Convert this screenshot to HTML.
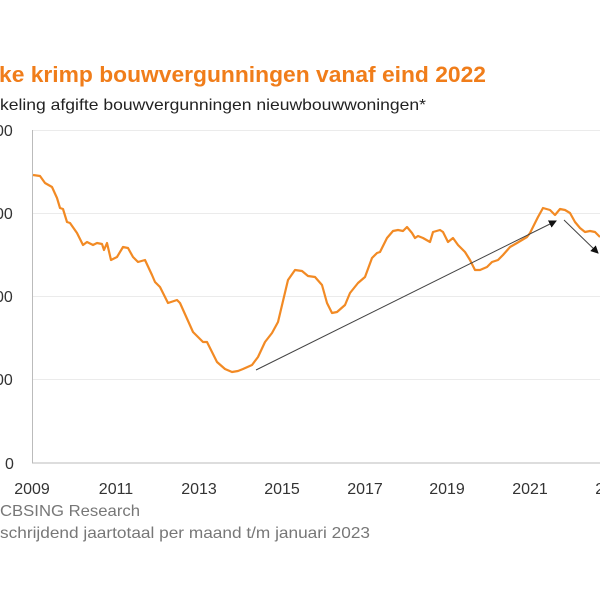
<!DOCTYPE html>
<html><head><style>
body{margin:0;background:#fff;width:600px;height:600px;overflow:hidden;font-family:"Liberation Sans",Arial,sans-serif}
</style></head><body>
<svg width="600" height="600" xmlns="http://www.w3.org/2000/svg" font-family="Liberation Sans, Arial, sans-serif">
<text x="-1" y="82" font-size="22" font-weight="bold" fill="#f07d1a" textLength="487" lengthAdjust="spacingAndGlyphs">ke krimp bouwvergunningen vanaf eind 2022</text>
<text x="0" y="110" font-size="16" fill="#222" textLength="426" lengthAdjust="spacingAndGlyphs">keling afgifte bouwvergunningen nieuwbouwwoningen*</text>
<g stroke="#ebebeb" stroke-width="1">
<line x1="33" y1="130.5" x2="600" y2="130.5"/>
<line x1="33" y1="213.5" x2="600" y2="213.5"/>
<line x1="33" y1="296.5" x2="600" y2="296.5"/>
<line x1="33" y1="379.5" x2="600" y2="379.5"/>
</g>
<line x1="32.5" y1="130" x2="32.5" y2="463" stroke="#bbb"/>
<line x1="32" y1="463" x2="600" y2="463" stroke="#bbb"/>
<g font-size="16" fill="#333">
<text x="-5" y="136">00</text><text x="-5" y="219">00</text><text x="-5" y="302">00</text><text x="-5" y="385">00</text>
<text x="5" y="469">0</text>
</g>
<g font-size="16" fill="#333" text-anchor="middle">
<text x="32" y="494">2009</text><text x="116" y="494">2011</text><text x="199" y="494">2013</text><text x="282" y="494">2015</text><text x="365" y="494">2017</text><text x="447" y="494">2019</text><text x="530" y="494">2021</text><text x="613" y="494">2023</text>
</g>
<text x="0" y="516" font-size="16" fill="#777" textLength="140" lengthAdjust="spacingAndGlyphs">CBSING Research</text>
<text x="0" y="538" font-size="16" fill="#777" textLength="370" lengthAdjust="spacingAndGlyphs">schrijdend jaartotaal per maand t/m januari 2023</text>
<polyline fill="none" stroke="#f28a24" stroke-width="2.2" stroke-linejoin="round" points="33,175 40,176 45,183 52,187 57,198 60,208 63,209 67,222 70,223 77,233 83,245 87,242 93,245 97,243 102,244 104,250 107,243 111,260 117,257 123,247 128,248 133,257 138,262 145,260 152,275 155,282 160,287 168,303 177,300 180,303 193,332 203,342 207,342 217,362 225,369 232,372 238,371 243,369 252,365 258,357 265,342 272,333 278,322 288,280 295,270 302,271 308,276 315,277 322,285 327,303 332,313 337,312 345,305 350,293 358,283 365,277 372,258 377,253 380,252 387,238 393,231 398,230 403,231 407,227 412,233 415,238 418,236 423,238 430,242 433,232 440,230 443,232 448,242 453,238 458,245 465,252 470,260 475,270 480,270 487,267 492,262 498,260 503,255 510,247 517,243 522,240 527,237 530,233 533,227 538,217 543,208 550,210 555,215 560,209 565,210 570,213 575,222 580,228 585,232 590,231 595,232 600,237"/>
<defs><marker id="a" markerWidth="8" markerHeight="8" refX="7" refY="4" orient="auto"><path d="M0,0 L8,4 L0,8z" fill="#111"/></marker></defs>
<line x1="256" y1="370" x2="556" y2="221" stroke="#444" stroke-width="1" marker-end="url(#a)"/>
<line x1="564" y1="220" x2="598" y2="253" stroke="#444" stroke-width="1" marker-end="url(#a)"/>
</svg>
</body></html>
